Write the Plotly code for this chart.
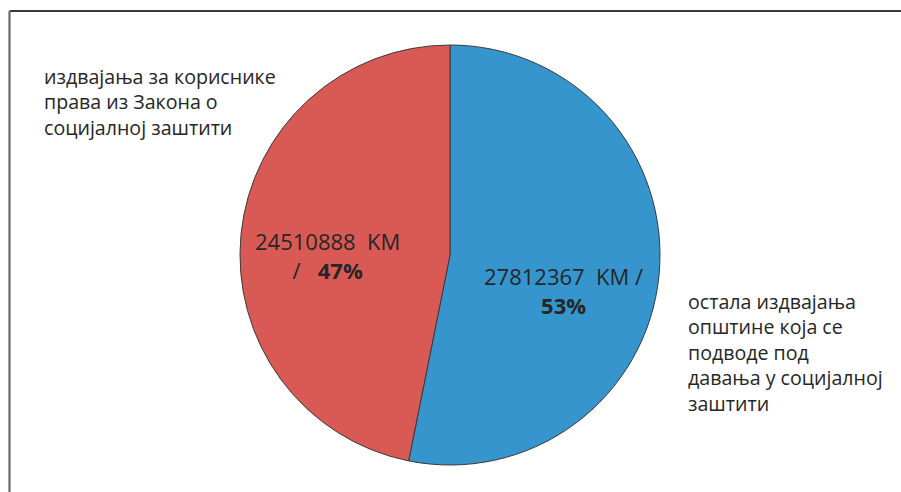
import plotly.graph_objects as go

categories = ["остала издвајања општине која се подводе под давања у социјалној заштити",
              "издвајања за кориснике права из Закона о социјалној заштити"]
values = [27812367, 24510888]
colors = ["#3795cd", "#d95a55"]
outside_labels = ["остала издвајања<br>општине која се<br>подводе под<br>давања у социјалној<br>заштити",
                  "издвајања за кориснике<br>права из Закона о<br>социјалној заштити"]
unit = "KM"

W, H = 901, 492
total = sum(values)
pcts = [round(v / total * 100) for v in values]


def px(x):
    return x / W


def py(y):
    return 1 - y / H


fig = go.Figure(go.Pie(
    labels=categories, values=values, sort=False, direction="clockwise", rotation=0,
    marker=dict(colors=colors, line=dict(color="#3a3a3a", width=1)),
    textinfo="none", hoverinfo="label+value+percent", showlegend=False,
    domain=dict(x=[px(239), px(661)], y=[py(465), py(45)]),
))

font_txt = dict(family="Open Sans, Noto Sans, sans-serif", size=19.6, color="#262626")
font_in = dict(family="Open Sans, Noto Sans, sans-serif", size=22, color="#262626")

inside_texts = [f"{values[0]}  {unit} /<br><b>{pcts[0]}%</b>",
                f"{values[1]}  {unit}<br>/   <b>{pcts[1]}%</b>"]
inside_pos = [(563, 290), (327, 255)]
outside_pos = [(42, 102), (686, 352)]
outside_order = [1, 0]

annotations = []
for t, (x, y) in zip(inside_texts, inside_pos):
    annotations.append(dict(text=t, x=px(x), y=py(y), xref="paper", yref="paper",
                            showarrow=False, xanchor="center", yanchor="middle",
                            align="center", font=font_in))
for i, (x, y) in zip(outside_order, outside_pos):
    annotations.append(dict(text=outside_labels[i], x=px(x), y=py(y), xref="paper", yref="paper",
                            showarrow=False, xanchor="left", yanchor="middle",
                            align="left", font=font_txt))

shapes = [
    dict(type="line", xref="paper", yref="paper", x0=px(9.5), x1=1.0, y0=py(11), y1=py(11),
         line=dict(color="#3a3a3a", width=2.2)),
    dict(type="line", xref="paper", yref="paper", x0=px(9.5), x1=px(9.5), y0=py(11), y1=0.0,
         line=dict(color="#6a6a6a", width=2.2)),
]

fig.update_layout(width=W, height=H, margin=dict(l=0, r=0, t=0, b=0),
                  paper_bgcolor="white", plot_bgcolor="white",
                  annotations=annotations, shapes=shapes)
fig.write_html("out.html", config={"displayModeBar": False},
               post_script="document.body.style.margin='0';document.body.style.padding='0';"
                           "document.body.style.overflow='hidden';")
